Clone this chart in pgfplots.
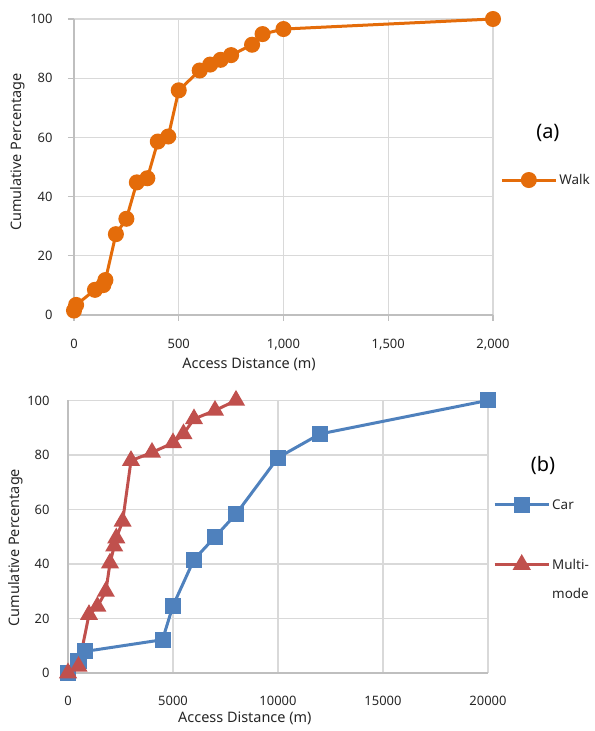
\documentclass[border=0pt]{standalone}
\usepackage{pgfplots}
\pgfplotsset{compat=1.18}
\usepackage{fontspec}
\setmainfont{Noto Sans}
\definecolor{walkc}{HTML}{E46C0A}
\definecolor{carc}{HTML}{4F81BD}
\definecolor{multic}{HTML}{C0504D}
\definecolor{gridc}{HTML}{D9D9D9}
\definecolor{axc}{HTML}{BFBFBF}
\definecolor{txt}{HTML}{262626}
\pgfplotsset{
  mystyle/.style={
    scale only axis, clip=false,
    axis lines=left, axis line style={axc, line width=1.2bp, -},
    grid=major, major grid style={gridc, line width=1.2bp},
    ymin=0, ymax=100, ytick={0,20,...,100},
    tick label style={font=\fontsize{13}{15}\selectfont, text=txt},
    label style={font=\fontsize{14.5}{16}\selectfont, text=txt},
    /pgf/number format/assume math mode=true,
    scaled ticks=false,
    legend style={draw=none, fill=none, font=\fontsize{13.5}{15}\selectfont, text=txt, inner sep=0pt},
    legend cell align=left,
    legend image code/.code={
      \draw[mark repeat=2,mark phase=2] plot coordinates {(0bp,0bp)(27bp,0bp)(54bp,0bp)};
    },
  }
}
\begin{document}
\begin{tikzpicture}
\useasboundingbox (0,0) rectangle (595bp,731bp);
% (a)
\begin{axis}[mystyle,
  at={(74bp,416bp)}, anchor=south west,
  width=419bp, height=296bp,
  xmin=0, xmax=2000, xtick={0,500,...,2000},
  /pgf/number format/1000 sep={,},
  tick align=outside, major tick length=6bp, tick style={axc, line width=1.2bp},
  xticklabel style={yshift=-15bp},
  yticklabel style={xshift=-12bp},
  xlabel={Access Distance (m)}, ylabel={Cumulative Percentage},
  xlabel style={at={(axis description cs:0.418,-0.165)}, anchor=center},
  ylabel style={at={(axis description cs:-0.134,0.55)}, anchor=center, rotate=0},
  legend style={at={(axis description cs:1.017,0.456)}, anchor=west},
]
\addplot[walkc, line width=3bp, mark=*, mark size=6.5bp, mark options={solid, fill=walkc, draw=walkc}] coordinates {
(0,1.5) (10,3.4) (100,8.5) (140,10.1) (150,11.8) (200,27.3) (250,32.5) (300,44.8) (350,46.2)
(400,58.6) (450,60.3) (500,75.9) (600,82.6) (650,84.6) (700,86.2) (750,87.8) (850,91.3)
(900,94.9) (1000,96.6) (2000,100)};
\addlegendentry{Walk}
\node[font=\fontsize{20}{22}\selectfont, text=black] at (axis description cs:1.131,0.615) {(a)};
\end{axis}
% (b)
\begin{axis}[mystyle,
  at={(68bp,58bp)}, anchor=south west,
  width=420bp, height=272.6bp,
  xmin=0, xmax=20000, xtick={0,5000,...,20000},
  /pgf/number format/1000 sep={},
  major tick length=0pt,
  xticklabel style={yshift=-20bp},
  yticklabel style={xshift=-15bp},
  xlabel={Access Distance (m)}, ylabel={Cumulative Percentage},
  xlabel style={at={(axis description cs:0.421,-0.168)}, anchor=center},
  ylabel style={at={(axis description cs:-0.124,0.46)}, anchor=center},
  legend style={at={(axis description cs:1.012,0.645)}, anchor=north west, row sep=44bp},
]
\addplot[carc, line width=3bp, mark=square*, mark size=6.5bp, mark options={solid, fill=carc, draw=carc}] coordinates {
(0,0) (500,4.3) (800,7.9) (4500,12.2) (5000,24.7) (6000,41.6) (7000,49.9) (8000,58.3)
(10000,79.0) (12000,87.7) (20000,100)};
\addlegendentry{Car}
\addplot[multic, line width=3bp, mark=triangle*, mark size=7.5bp, mark options={solid, fill=multic, draw=multic}] coordinates {
(0,0) (500,2.4) (1000,21.4) (1400,24.4) (1800,29.9) (2000,40.3) (2200,46.5) (2300,49.5)
(2600,55.6) (3000,77.9) (4000,80.9) (5000,84.4) (5500,87.7) (6000,93.2) (7000,96.3) (8000,100)};
\addlegendentry{\begin{tabular}[t]{@{}l@{}}Multi-\\[15bp]mode\end{tabular}}
\node[font=\fontsize{20}{22}\selectfont, text=black] at (axis description cs:1.131,0.763) {(b)};
\end{axis}
\end{tikzpicture}
\end{document}
